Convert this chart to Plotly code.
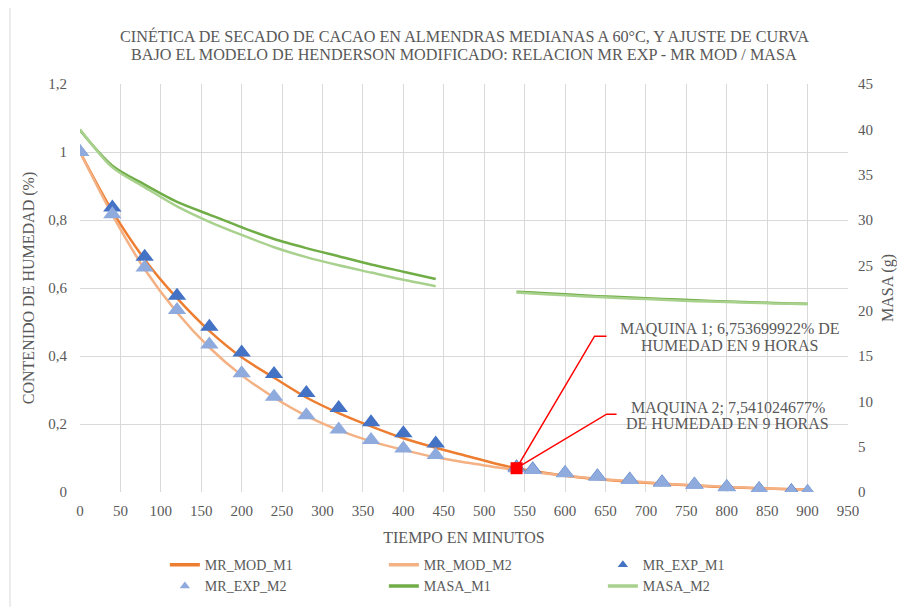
import plotly.graph_objects as go

# ---------------- data ----------------
t_model = [0, 40, 80, 120, 160, 200, 240, 280, 320, 360, 400, 440, 480, 520, 540,
           560, 600, 640, 680, 720, 760, 800, 840, 880, 900]
mr_mod_m1 = [1.0, 0.826, 0.684, 0.570, 0.474, 0.396, 0.336, 0.278, 0.232, 0.193, 0.158, 0.130,
             0.105, 0.080, 0.070, 0.062, 0.048, 0.038, 0.030, 0.024, 0.019, 0.014, 0.011, 0.008, 0.007]
mr_mod_m2 = [1.0, 0.815, 0.655, 0.528, 0.425, 0.343, 0.278, 0.224, 0.182, 0.149, 0.124, 0.102,
             0.086, 0.071, 0.065, 0.059, 0.048, 0.039, 0.032, 0.025, 0.020, 0.015, 0.011, 0.008, 0.007]

t_exp = [0, 40, 80, 120, 160, 200, 240, 280, 320, 360, 400, 440,
         540, 560, 600, 640, 680, 720, 760, 800, 840, 880, 900]
mr_exp_m1 = [1.0, 0.837, 0.692, 0.577, 0.486, 0.410, 0.347, 0.291, 0.247, 0.205, 0.173, 0.143,
             0.073, 0.067, 0.056, 0.046, 0.037, 0.029, 0.022, 0.015, 0.009, 0.003, 0.0]
mr_exp_m2 = [1.0, 0.817, 0.660, 0.535, 0.434, 0.349, 0.280, 0.226, 0.184, 0.153, 0.128, 0.109,
             0.070, 0.065, 0.055, 0.045, 0.035, 0.027, 0.021, 0.014, 0.008, 0.001, 0.0]

t_masa = [0, 40, 80, 120, 160, 200, 240, 280, 320, 360, 400, 440, None,
          540, 560, 600, 640, 680, 720, 760, 800, 840, 880, 900]
masa_m1 = [39.9, 36.0, 33.9, 32.0, 30.6, 29.2, 27.9, 26.9, 26.0, 25.1, 24.3, 23.5, None,
           22.1, 22.0, 21.8, 21.6, 21.45, 21.3, 21.15, 21.0, 20.9, 20.8, 20.75]
masa_m2 = [40.0, 35.8, 33.6, 31.5, 29.8, 28.35, 27.0, 25.9, 25.0, 24.2, 23.4, 22.7, None,
           22.0, 21.9, 21.7, 21.5, 21.35, 21.2, 21.05, 20.95, 20.85, 20.75, 20.7]

punto_t = [540]
punto_mr = [0.070]

label_1 = ["MAQUINA 1; 6,753699922% DE", "HUMEDAD EN 9 HORAS"]
label_2 = ["MAQUINA 2; 7,541024677%", "DE HUMEDAD EN 9 HORAS"]

title_lines = ["CINÉTICA DE SECADO DE CACAO EN ALMENDRAS MEDIANAS A 60°C, Y AJUSTE DE CURVA",
               "BAJO EL MODELO DE HENDERSON MODIFICADO: RELACION MR EXP - MR MOD / MASA"]

# ---------------- style ----------------
FONT = "Liberation Serif, DejaVu Serif, serif"
GREY = "#595959"
GRID = "#D9D9D9"
W, H = 897, 599   # page body adds an 8px offset
ML, MR, MT, MB = 72, 57, 76, 115
PH = H - MT - MB

C_MOD1, C_MOD2 = "#ED7D31", "#F4B183"
C_EXP1, C_EXP2 = "#4472C4", "#8FAADC"
C_MAS1, C_MAS2 = "#70AD47", "#A9D18E"

fig = go.Figure()

fig.add_trace(go.Scatter(x=t_model, y=mr_mod_m1, mode="lines", name="MR_MOD_M1",
                         line=dict(color=C_MOD1, width=2.5, shape="spline", smoothing=0.8),
                         showlegend=False))
fig.add_trace(go.Scatter(x=t_model, y=mr_mod_m2, mode="lines", name="MR_MOD_M2",
                         line=dict(color=C_MOD2, width=2.5, shape="spline", smoothing=0.8),
                         showlegend=False))
fig.add_trace(go.Scatter(x=t_exp, y=mr_exp_m1, mode="markers", name="MR_EXP_M1",
                         marker=dict(symbol="triangle-up", size=16, color=C_EXP1),
                         showlegend=False))
fig.add_trace(go.Scatter(x=t_exp, y=mr_exp_m2, mode="markers", name="MR_EXP_M2",
                         marker=dict(symbol="triangle-up", size=16, color=C_EXP2),
                         showlegend=False))
fig.add_trace(go.Scatter(x=punto_t, y=punto_mr, mode="markers", showlegend=False,
                         marker=dict(symbol="square", size=12, color="#FF0000")))
fig.add_trace(go.Scatter(x=t_masa, y=masa_m1, mode="lines", name="MASA_M1", yaxis="y2",
                         line=dict(color=C_MAS1, width=2.5, shape="spline", smoothing=0.8),
                         connectgaps=False, showlegend=False))
fig.add_trace(go.Scatter(x=t_masa, y=masa_m2, mode="lines", name="MASA_M2", yaxis="y2",
                         line=dict(color=C_MAS2, width=2.5, shape="spline", smoothing=0.8),
                         connectgaps=False, showlegend=False))

legend_items = [
    ("MR_MOD_M1", "lines", C_MOD1),
    ("MR_MOD_M2", "lines", C_MOD2),
    ("MR_EXP_M1", "markers", C_EXP1),
    ("MR_EXP_M2", "markers", C_EXP2),
    ("MASA_M1", "lines", C_MAS1),
    ("MASA_M2", "lines", C_MAS2),
]
for name, mode, col in legend_items:
    if mode == "lines":
        fig.add_trace(go.Scatter(x=[None], y=[None], mode="lines", name=name,
                                 line=dict(color=col, width=3.5)))
    else:
        fig.add_trace(go.Scatter(x=[None], y=[None], mode="markers", name=name,
                                 marker=dict(symbol="triangle-up", size=9, color=col)))

# leader lines anchored to the highlighted point
fig.add_shape(type="path", xref="x", yref="y", xsizemode="pixel", ysizemode="pixel",
              xanchor=punto_t[0], yanchor=punto_mr[0],
              path="M 0,0 L 78,132 L 90,132", line=dict(color="#FF0000", width=1.5))
fig.add_shape(type="path", xref="x", yref="y", xsizemode="pixel", ysizemode="pixel",
              xanchor=punto_t[0], yanchor=punto_mr[0],
              path="M 0,0 L 90,54 L 100,54", line=dict(color="#FF0000", width=1.5))

# data labels (one annotation per line, to keep the tight line spacing)
for txt, dx, dy in [(label_1[0], 213, 140), (label_1[1], 213, 123),
                    (label_2[0], 211, 61), (label_2[1], 211, 45)]:
    fig.add_annotation(x=punto_t[0], y=punto_mr[0], text=txt, showarrow=False,
                       xanchor="center", yanchor="middle", xshift=dx, yshift=dy,
                       font=dict(family=FONT, size=16, color=GREY))

# title (two lines)
for txt, ypix in [(title_lines[0], 37 - 8), (title_lines[1], 55 - 8)]:
    fig.add_annotation(xref="paper", yref="paper", x=0.5, y=(H - MB - ypix) / PH,
                       text=txt, showarrow=False, xanchor="center", yanchor="middle",
                       font=dict(family=FONT, size=16.2, color=GREY))

# chart-area left border
fig.add_shape(type="line", xref="paper", yref="paper", x0=-0.0911, x1=-0.0911, y0=-0.3, y1=1.25,
              line=dict(color=GRID, width=1))

fig.update_layout(
    width=W, height=H,
    margin=dict(l=ML, r=MR, t=MT, b=MB, autoexpand=False),
    paper_bgcolor="white", plot_bgcolor="white",
    separators=",.",
    font=dict(family=FONT, color=GREY, size=15),
    xaxis=dict(range=[0, 950], tick0=0, dtick=50, showgrid=True, gridcolor=GRID, gridwidth=1,
               zeroline=False, showline=False, ticks="", ticklabelstandoff=8,
               tickfont=dict(family=FONT, size=15, color=GREY),
               title=dict(text="TIEMPO EN MINUTOS", standoff=13,
                          font=dict(family=FONT, size=16, color=GREY))),
    yaxis=dict(range=[0, 1.2], tick0=0, dtick=0.2, showgrid=True, gridcolor=GRID, gridwidth=1,
               zeroline=False, showline=False, ticks="", ticklabelstandoff=12,
               tickfont=dict(family=FONT, size=15, color=GREY),
               title=dict(text="CONTENIDO DE HUMEDAD (%)", standoff=9,
                          font=dict(family=FONT, size=16, color=GREY))),
    yaxis2=dict(range=[0, 45], tick0=0, dtick=5, overlaying="y", side="right", showgrid=False,
                zeroline=False, showline=False, ticks="", ticklabelstandoff=9,
                tickfont=dict(family=FONT, size=15, color=GREY),
                title=dict(text="MASA (g)", standoff=9,
                           font=dict(family=FONT, size=16, color=GREY))),
    legend=dict(orientation="h", x=0.1105, xanchor="left", y=-0.14, yanchor="top",
                entrywidth=174, entrywidthmode="pixels", traceorder="normal",
                font=dict(family=FONT, size=14, color=GREY), tracegroupgap=0,
                itemsizing="trace"),
    showlegend=True,
)

fig.write_html("out.html")
